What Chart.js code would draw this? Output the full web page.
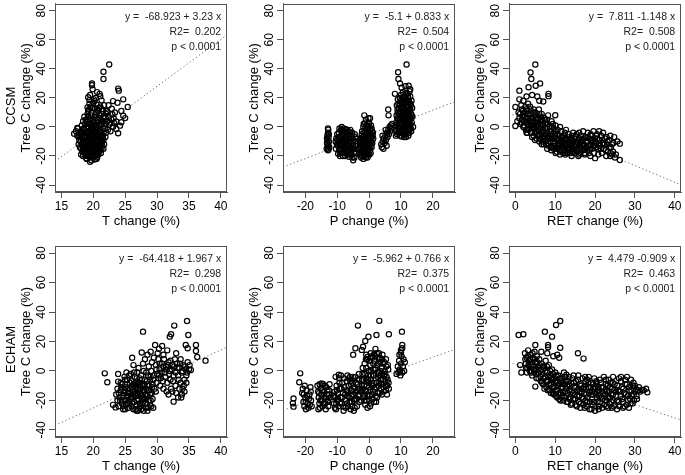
<!DOCTYPE html>
<html>
<head>
<meta charset="utf-8">
<script src="https://cdn.jsdelivr.net/npm/chart.js@4.4.0/dist/chart.umd.min.js"></script>
<style>
  body { margin: 0; width: 685px; height: 475px; overflow: hidden; background: #fff; position: relative; }
  canvas { position: absolute; }
</style>
</head>
<body>
<canvas id="c0" width="231" height="230" style="left:0px;top:0px"></canvas>
<canvas id="c1" width="231" height="230" style="left:228px;top:0px"></canvas>
<canvas id="c2" width="231" height="230" style="left:454px;top:0px"></canvas>
<canvas id="c3" width="231" height="238" style="left:0px;top:237px"></canvas>
<canvas id="c4" width="231" height="238" style="left:228px;top:237px"></canvas>
<canvas id="c5" width="231" height="238" style="left:454px;top:237px"></canvas>
<script>
// ---- tick labels / axis ranges
const yTicks = [-40, -20, 0, 20, 40, 60, 80];
const xTicksT = [15, 20, 25, 30, 35, 40];
const xTicksP = [-20, -10, 0, 10, 20];
const xTicksRET = [0, 10, 20, 30, 40];
const yLim = [-44.8, 84.8];
const xLimT = [14, 41];
const xLimP = [-27, 27];
const xLimRET = [-1.6, 41.6];

const xTitles = ['T change (%)', 'P change (%)', 'RET change (%)'];
const yTitle = 'Tree C change (%)';
const rowLabels = ['CCSM', 'ECHAM'];

// ---- regression fits
const intercepts = [-68.923, -5.1, 7.811, -64.418, -5.962, 4.479];
const slopes = [3.23, 0.833, -1.148, 1.967, 0.766, -0.909];
const eqLabels = ['y =  -68.923 + 3.23 x', 'y =  -5.1 + 0.833 x', 'y =  7.811 -1.148 x',
                  'y =  -64.418 + 1.967 x', 'y =  -5.962 + 0.766 x', 'y =  4.479 -0.909 x'];
const r2Labels = ['R2=  0.202', 'R2=  0.504', 'R2=  0.508', 'R2=  0.298', 'R2=  0.375', 'R2=  0.463'];
const pLabel = 'p < 0.0001';

// ---- points: [x, y]
const ccsmT = [
  [18.1,-3],[18.3,-8],[18.2,-12],[18.4,-15],[18.6,-18],[18.5,-1],[18.7,2],[18.6,-6],[18.8,-10],[18.9,-13],
  [18.9,-20],[19.0,-16],[19.1,-4],[19.0,4],[19.2,7],[19.3,0],[19.3,-8],[19.4,-11],[19.4,-18],[19.5,-21],
  [19.6,-14],[19.6,-2],[19.7,2],[19.7,10],[19.8,-6],[19.9,-9],[19.9,-16],[20.0,-19],[20.0,5],[20.1,-12],
  [20.2,-3],[20.2,1],[20.3,8],[20.3,-14],[20.4,-7],[20.5,-17],[20.5,-22],[20.6,-10],[20.6,3],[20.7,-1],
  [20.8,11],[20.8,-5],[20.9,-13],[21.0,6],[21.0,-8],[21.1,-16],[21.1,-2],[21.2,1],[21.3,-11],[21.3,9],
  [21.4,-6],[21.5,4],[21.6,-9],[21.7,-3],[18.0,-7],[18.3,-17],[18.5,-11],[18.8,-4],[18.7,-15],[19.0,-9],
  [19.1,-1],[19.2,-13],[19.5,-5],[19.5,5],[19.6,-19],[19.8,-12],[19.8,0],[20.0,-7],[20.1,-15],[20.1,3],
  [20.3,-20],[20.4,-4],[20.5,6],[20.7,-12],[20.8,-19],[20.9,-3],[21.0,-15],[21.2,-7],[21.2,4],[21.4,-13],
  [19.3,12],[19.9,13],[20.6,12],[21.5,11],[18.4,4],[17.6,-1],[17.5,-6],[17.8,-9],[17.9,-14],[17.3,-3],
  [18.1,-19],[19.7,-23],[20.2,-22.5],[18.9,-21.5],[19.4,16],[20.0,16.5],[20.5,15.5],[21.1,14],[19.1,9],[18.6,7],
  [18.2,1],[17.8,-4.5],[21.8,-1],[21.9,2],[22.0,-4],[21.7,-12],[21.2,-18],[21.6,-15],
  [22.5,43],[21.6,38],[21.6,33],[19.8,30],[19.8,28.7],[23.9,26.4],[24.0,25],[24.7,19],[23.1,17.8],[23.8,16.7],
  [19.4,18.5],[20.2,17.8],[21.0,22.8],[21.1,21.2],[21.3,18.3],[20.1,19],[25.4,13.8],[24.4,11],[24.7,7.7],[25.0,6.1],
  [24.2,0.9],[23.9,-4.3],[23.6,-1.4],[23.1,0.2],[22.5,1.6],[22.8,5.4],[21.9,6.5],[23.0,8.8],[23.4,10],[22.1,11],
  [21.3,12.2],[24.4,3.2],[23.6,3.8],[22.4,7],[22.9,12.5],[22.2,4],[23.3,2.5],[17.0,-4.7],[17.5,-0.7],[19.5,22],
  [20.6,24],[19.9,26],
  [18.2,-5],[18.4,-10],[18.5,-13.5],[18.7,-8],[18.8,-17],[18.9,0],[19.0,-6],[19.0,-19],[19.1,-11],[19.2,-15],
  [19.2,2],[19.3,-3],[19.3,-20],[19.4,-7],[19.4,5],[19.5,-9],[19.5,-13],[19.6,-17],[19.6,8],[19.7,-4],
  [19.7,-10],[19.8,-15],[19.8,-20],[19.9,-2],[19.9,3],[20.0,-5],[20.0,-11],[20.0,-14],[20.1,-8],[20.1,-18],
  [20.2,-1],[20.2,7],[20.3,-10],[20.3,-16],[20.4,0],[20.4,-12],[20.5,-2],[20.5,-8],[20.6,-15],[20.6,-19],
  [20.7,-6],[20.7,5],[20.8,-9],[20.8,-14],[20.9,1],[20.9,-17],[21.0,-4],[21.0,-11],[21.1,-13],[21.1,8],
  [21.2,-9],[21.3,-4],[21.3,-15],[21.4,2],[21.4,-10],[21.5,-7],[21.5,-1],[18.6,-2],[18.3,-4],[18.0,-10],
  [17.7,-12],[18.4,-20],[19.0,-22],[18.8,5],[19.2,11],[19.6,14],[20.4,10],[20.9,13],[19.1,13.5],[20.2,13],
  [21.6,7],[21.8,4],[22.0,9],[21.9,-7],[22.3,-2],[22.6,3],[22.2,10],[22.7,-3],[23.2,6],[21.7,15],
  [22.4,15],[20.4,20],[19.2,20.5],[19.5,-24],[20.6,-21],[17.8,-7],[18.1,-15],[19.7,-1],[20.1,-3]
];
const ccsmP = [
  [-12.8,-2],[-12.9,-4],[-13.1,-6],[-12.7,-7],[-13.0,-9],[-12.6,-10],[-13.2,-11],[-12.8,-12],[-13.0,-13.5],[-12.5,-14],
  [-13.3,-15],[-12.7,-15.5],[-12.9,-1],[-13.2,-8],[-12.6,-5],[-12.9,-16],
  [-9.6,-7],[-9.2,-10],[-9.8,-13],[-9.4,-16],[-9.0,-18],[-8.8,-2],[-8.6,-5],[-8.4,-9],[-8.7,-12],[-8.3,-15],
  [-8.5,-18],[-8.2,-20],[-8.0,-1],[-7.8,-7],[-7.6,-11],[-7.9,-14],[-7.4,-17],[-7.2,-4],[-7.0,-9],[-6.8,-13],
  [-6.6,-16],[-6.9,-19],[-6.2,-6],[-6.0,-10],[-5.8,-14],[-5.6,-17],[-5.4,-8],[-5.0,-12],[-5.2,-21],[-4.8,-15],
  [-4.5,-5],[-4.4,-10],[-4.2,-18],[-3.9,-8],[-9.9,-9],[-10.1,-12],[-10.3,-8],[-9.1,-20],[-8.9,-7],[-7.5,-20],
  [-6.4,-3],[-5.3,-4],[-4.0,-13],[-5.5,-19],[-8.6,0],[-7.3,-1.5],[-10.4,-15],[-9.7,-18.5],[-6.3,-20.5],[-4.6,-21],
  [-5.0,-23],
  [-9.5,-4],[-9.3,-8],[-9.1,-12],[-9.0,-15],[-8.9,-10],[-8.7,-16],[-8.5,-3],[-8.3,-12],[-8.1,-6],[-8.0,-17],
  [-7.8,-3],[-7.7,-13],[-7.5,-9],[-7.3,-15],[-7.1,-12],[-7.0,-2],[-6.9,-6],[-6.7,-10],[-6.5,-18],[-6.3,-13],
  [-6.1,-8],[-6.0,-15],[-5.9,-2],[-5.7,-11],[-5.5,-6],[-5.2,-15],[-4.9,-9],[-4.7,-17],[-4.3,-7],[-4.1,-15],
  [-9.6,-11],[-10.0,-5],[-10.5,-10],[-9.3,-1],[-8.0,-10],[-7.2,-7],[-6.0,-19],
  [-2.8,-12],[-2.6,-16],[-2.9,-19],[-2.5,-21],[-2.4,-8],[-2.2,-3],[-2.0,-14],[-2.1,-18],[-1.8,-22],[-1.7,2],
  [-1.6,-6],[-1.5,-10],[-1.4,-16],[-1.3,-20],[-1.2,-1],[-1.0,5],[-1.5,8],[-0.9,-8],[-0.8,-13],[-0.7,-18],
  [-0.6,-4],[-0.4,0],[-0.3,-10],[-0.2,-15],[-0.1,-6],[0.0,3],[0.3,6],[0.2,-2],[0.4,-9],[0.5,-13],
  [0.6,-5],[0.8,-1],[0.9,-7],[1.0,-11],[-0.5,-21],[0.1,-19],[0.5,-18],[-1.1,-12],[-2.3,-11],[-1.9,-9],
  [-0.4,-16],[1.2,-4],[1.3,-8],[-3.1,-15],
  [-2.7,-14],[-2.6,-10],[-2.4,-18],[-2.3,-5],[-2.2,-20],[-2.1,-12],[-2.0,-7],[-1.9,-16],[-1.8,0],[-1.7,-12],
  [-1.6,-19],[-1.5,-3],[-1.4,-8],[-1.3,-14],[-1.2,3],[-1.1,-17],[-1.0,-5],[-1.0,-21],[-0.9,-11],[-0.8,1],
  [-0.7,-15],[-0.6,-9],[-0.5,-2],[-0.4,-12],[-0.3,-19],[-0.2,-7],[-0.1,2],[0.0,-14],[0.1,-4],[0.2,-11],
  [0.3,-16],[0.4,-1],[0.5,-7],[0.7,-10],[0.8,-14],[0.9,-3],[1.1,-6],[-0.2,6],[0.6,1],[-3.0,-18],
  [-2.9,-9],
  [3.8,-12],[4.0,-14],[4.3,-10],[4.5,-15],[4.6,-8],[4.9,-11],[5.1,-6],[5.3,-9],[5.6,-4],[5.8,-7],
  [6.0,-2],[6.2,-5],[6.4,0],[6.6,-3],[6.8,1],[7.0,-1],[6.0,12],[6.1,8],[5.5,-13],[4.2,-6],
  [7.2,2],[5.2,-2],
  [8.3,-2],[8.5,3],[8.6,8],[8.8,-5],[8.9,12],[9.0,0],[9.1,5],[9.2,16],[9.3,-3],[9.4,9],
  [9.5,2],[9.6,20],[9.7,-6],[9.8,6],[9.9,13],[10.0,-1],[10.1,3],[10.2,10],[10.3,17],[10.4,-4],
  [10.5,7],[10.6,0],[10.7,14],[10.8,4],[10.9,-7],[11.0,9],[11.1,21],[11.2,1],[11.3,12],[11.4,-3],
  [11.5,6],[11.6,17],[11.7,-5],[11.8,3],[11.9,10],[12.0,0],[12.1,14],[12.2,-2],[12.3,7],[12.4,19],
  [12.5,4],[12.6,-4],[12.7,11],[12.8,1],[12.9,16],[13.0,6],[13.1,-1],[13.2,9],[13.4,3],[13.5,13],
  [12.0,23],[11.4,25],[12.4,28.4],[12.7,24.6],[12.9,21],[11.75,43],[9.1,37.7],[9.2,33],[9.7,30],[10.2,27],
  [8.1,22.8],[10.6,24],[11.0,18],[9.0,19],[10.0,22],[8.7,15],[13.3,18],[13.6,7],[13.8,0],[8.4,-6],
  [12.3,-6],[10.2,-6.5],[11.6,-7],[9.5,-1],[11.2,5],[12.6,2],[10.5,12],[9.8,9],[11.9,-3],
  [8.4,1],[8.6,-3],[8.8,6],[9.0,10],[9.1,-4],[9.2,2],[9.3,13],[9.4,-1],[9.5,6],[9.6,15],
  [9.7,3],[9.8,-4],[9.9,10],[10.0,18],[10.1,6],[10.2,-2],[10.3,13],[10.4,2],[10.5,20],[10.6,9],
  [10.7,-3],[10.8,16],[10.9,6],[11.0,1],[11.1,13],[11.2,-5],[11.3,8],[11.4,19],[11.5,2],[11.6,10],
  [11.7,14],[11.8,-1],[11.9,6],[12.0,18],[12.1,3],[12.2,10],[12.3,-3],[12.4,13],[12.5,8],[12.6,17],
  [12.7,-1],[12.8,6],[12.9,12],[13.0,2],[13.1,15],[13.2,-3],[13.3,8],[12.2,21],[11.7,23],[10.9,20],
  [11.4,28],[12.9,26]
];
const ccsmRET = [
  [0,0.7],[0,13.8],[1,25],[1,19],[3.3,27.3],[3.8,37.5],[4,33],[5,43],[6.2,30],[5.1,28.4],
  [8.3,22.8],[8.3,21.2],[10,8.1],[4.2,22],[6,18],[7,17.5],[2,18],[2.8,21],[5.5,21],
  [1.0,6],[1.2,9],[1.5,3],[1.6,12],[1.8,7],[2.0,0],[2.2,4],[2.3,10],[2.5,14],[2.6,-2],
  [2.8,6],[3.0,2],[3.0,11],[3.2,16],[3.4,-1],[3.5,8],[3.6,4],
  [3.8,12],[4.0,-4],[4.1,1],[4.3,6],[4.5,10],[4.6,-6],[4.8,-1],[5.0,3],[5.1,8],[5.3,-8],
  [5.4,-3],[5.6,1],[5.8,6],[5.9,12],[6.0,-5],[6.2,-1],[6.4,4],
  [6.5,-9],[6.6,9],[6.8,-3],[7.0,1],[7.1,-12],[7.3,-6],[7.5,5],[7.6,-1],[7.8,-9],[8.0,-4],
  [8.1,2],[8.3,-13],[8.4,-7],[8.6,0],[8.8,-10],[9.0,-3],[9.1,4],[9.3,-14],[9.4,-7],[9.6,-1],
  [9.8,-11],[10.0,-5],[10.1,1],
  [10.3,-15],[10.5,-9],[10.6,-2],[10.8,-13],[11.0,-6],[11.2,-17],[11.3,-10],[11.5,-3],[11.7,-14],[11.9,-7],
  [12.0,-18],[12.2,-11],[12.4,-4],[12.6,-15],[12.8,-8],[13.0,-18],[13.1,-12],[13.3,-5],[13.5,-16],[13.7,-9],
  [13.9,-13],[14.1,-18],[14.2,-6],[14.4,-11],[14.6,-15],[14.8,-8],
  [15.0,-18],[15.2,-12],[15.4,-5],[15.6,-15],[15.8,-9],[16.0,-19],[16.2,-12],[16.4,-6],[16.6,-15],[16.8,-9],
  [17.0,-3],[17.2,-12],[17.4,-18],[17.6,-7],[17.8,-14],[18.0,-10],[18.2,-4],[18.4,-16],[18.6,-8],[18.8,-12],
  [19.0,-6],[19.2,-15],[19.4,-10],[19.6,-3],[19.8,-13],[20.0,-21.5],[20.0,-8],
  [20.3,-11],[20.5,-5],[20.7,-15],[21.0,-9],[21.2,-13],[21.5,-6],[21.7,-18],[22.0,-11],[22.2,-15],[22.5,-8],
  [22.8,-20],[23.0,-12],[23.2,-17],[23.5,-9],[23.8,-20],[24.0,-14],[24.3,-19],[24.6,-11],[25.0,-21],[26.2,-11.5],
  [26.2,-22.8],[24.8,-7],[23.8,-6],[22.0,-4],[21.0,-3],
  [2.1,8],[3.1,6],[3.9,3],[4.4,0],[5.2,5],[5.7,-2],[6.3,2],[6.9,-7],[7.7,3],[8.7,-5],
  [9.7,-8],[10.7,-11],[11.6,-12],[12.5,-13],[13.4,-14],[14.3,-15],[15.1,-14],[16.1,-16],[17.1,-16],[12.1,-9],
  [13.6,-11],[15.5,-10],[16.7,-12],[11.0,-15],[14.0,-9],[18.5,-18],[19.7,-18],[20.8,-19],[1.5,15],[0.8,10],
  [0.5,4],[3.0,-4],[4.9,-9],[6.6,-12],[9.0,-16],[8.2,8],[7.2,6],
  [1.3,2],[1.7,5],[1.9,11],[2.1,1],[2.4,7],[2.7,12],[2.9,3],[3.1,-2],[3.3,9],[3.5,1],
  [3.7,14],[3.8,6],[4.0,9],[4.2,-1],[4.4,4],[4.6,12],[4.7,2],[4.9,-4],[5.0,10],[5.2,0],
  [5.4,6],[5.5,-6],[5.7,3],[5.9,-3],[6.0,9],[6.1,-8],[6.3,5],[6.5,-4],[6.7,2],[6.9,-10],
  [7.0,-2],[7.2,-8],[7.4,2],[7.5,-5],[7.7,-12],[7.9,-1],[8.0,-7],[8.2,-11],[8.5,-3],[8.7,-8],
  [8.9,-14],[9.1,-6],[9.2,0],[9.5,-10],[9.6,-15],[9.9,-3],[10.0,-13],[10.2,-8],[10.4,-17],[10.6,-5],
  [10.9,-9],[11.1,-12],[11.3,-16],[11.5,-7],[11.8,-10],[12.0,-14],[12.3,-6],[12.5,-17],[12.7,-11],[13.0,-9],
  [13.2,-15],[13.5,-7],[13.7,-18],[14.0,-12],[14.3,-9],[14.5,-17],[14.7,-13],[15.0,-7],[15.3,-16],[15.7,-11],
  [16.0,-8],[16.3,-18],[16.5,-10],[16.9,-13],[17.2,-8],[17.5,-15],[17.9,-11],[18.1,-7],[18.3,-13],[18.7,-15],
  [19.1,-9],[19.5,-13],[19.9,-10],[20.2,-14],[20.6,-8],[21.1,-11],[21.4,-15],[21.8,-9],[22.3,-12],[22.7,-16],
  [23.1,-10],[23.6,-14],[24.2,-12],[24.5,-17],[23.9,-18],[25.2,-19],[25.6,-10],[22.9,-7],[20.3,-6],[18.9,-5],
  [16.0,-4],[14.5,-4],[12.7,-2],[11.2,0],[9.4,2],[7.9,5],[6.4,7],[14.1,-20],[15.8,-20],[12.5,-19],
  [17.4,-19],[18.8,-20],[11.2,-19],[10.1,-18],[8.0,-15],[6.0,-10],[4.2,-7],[2.8,-4]
];
const echamT = [
  [21.8,-1.6],[22.2,-7.7],[23.9,-2],[23.9,-7.2],[27.8,26.7],[34.7,33.9],[32.7,30.8],[32.2,24.9],[32.0,23.3],[34.9,24.4],
  [34.5,17.6],[36.1,17.6],[34.8,15.4],[36.1,13.6],[36.3,9.5],[37.6,7.0],[35.3,0.7],[29.7,17.6],[30.8,17],[26.1,9],
  [23.1,-23],[23.5,-24.7],
  [24.0,-15],[24.2,-20],[24.4,-11],[24.6,-17],[24.7,-24],[24.9,-13],[25.0,-6],[25.1,-20],[25.3,-9],[25.4,-15],
  [25.5,-25],[25.6,-3],[25.8,-12],[25.9,-18],[26.0,-7],[26.1,-22],[26.2,-14],[26.4,-1],[26.5,-10],[26.6,-26],
  [26.7,-17],[26.8,-5],[26.9,-20],[27.0,-12],[27.1,2],[27.2,-8],[27.3,-24],[27.4,-15],[27.5,-3],[27.6,-19],
  [27.7,-10],[27.8,5],[27.9,-27],[28.0,-14],[28.1,-6],[28.2,-22],[28.3,-1],[28.4,-17],[28.5,-10],[28.6,-25],
  [28.7,3],[28.8,-13],[28.9,-6],[29.0,-20],[29.1,0],[29.2,-15],[29.3,-9],[29.5,-3],[24.3,-8],[25.2,-1],
  [26.3,4],[23.6,-16],[23.8,-12],[25.7,-22],[26.8,-23],[27.5,-26],[28.5,-27],[29.4,-25],[27.0,-16],[26.0,-11],
  [25.5,-17],[27.9,-18],[28.9,-23],[29.6,-12],[27.3,-5],[26.6,-8],[28.1,8],[29.2,6],[28.5,11],[27.6,12.5],
  [29.0,13],[24.5,-22],[25.0,-26],
  [24.1,-18],[24.3,-13],[24.5,-9],[24.6,-20],[24.8,-15],[24.9,-4],[25.0,-11],[25.1,-23],[25.2,-17],[25.3,-6],
  [25.4,-12],[25.6,-20],[25.7,-8],[25.8,-15],[25.9,-2],[26.0,-24],[26.1,-13],[26.2,-18],[26.3,-9],[26.4,-21],
  [26.5,-4],[26.6,-15],[26.7,-11],[26.8,-27],[26.9,-1],[27.0,-8],[27.1,-19],[27.2,-14],[27.3,-22],[27.4,-10],
  [27.5,-17],[27.6,-6],[27.7,-23],[27.8,-13],[27.9,0],[28.0,-9],[28.1,-19],[28.2,-16],[28.3,-25],[28.4,-7],
  [28.5,-13],[28.6,-3],[28.7,-20],[28.8,-10],[28.9,-16],[29.0,-4],[29.1,-24],[29.2,-11],[29.3,-19],[29.4,-6],
  [26.5,-16],[27.3,-12],[25.8,-19],[26.9,-9],[28.3,-12],[27.8,-21],[25.4,-22],[26.3,-26],[27.0,-27],[24.7,-26],
  [24.0,-24],[23.8,-20],
  [29.8,4],[30.0,-2],[30.2,8],[30.4,1],[30.6,-5],[30.8,5],[31.0,11],[31.2,-1],[31.4,3],[31.6,-8],
  [31.8,6],[32.0,0],[32.2,-12],[32.4,4],[32.6,-3],[32.8,8],[33.0,-15],[33.2,2],[33.4,-6],[33.6,5],
  [33.8,-18],[34.0,0],[34.2,-10],[34.4,3],[34.6,-3],[34.8,6],[35.0,1],[33.9,-16],[32.6,-20.8],[31.5,-14],
  [31.0,-12],[32.9,-10],[33.5,-12],[34.3,-14],[30.5,-10],[29.8,-14],[30.1,12],[31.6,14],[33.0,12],[29.5,9],
  [30.9,-7],[32.1,-6],[33.7,-8],[30.3,15],
  [29.9,-8],[30.2,-5],[30.4,5],[30.7,-1],[31.0,3],[31.1,8],[31.3,-4],[31.5,1],[31.7,4],[31.9,-2],
  [32.1,7],[32.3,1],[32.5,-7],[32.7,3],[32.9,-1],[33.1,5],[33.3,-3],[33.5,2],[33.7,8],[33.9,-1],
  [34.1,4],[34.3,-6],[34.5,1],[34.7,-1],[35.1,4],[31.8,-16],[32.4,-14],[33.3,-18],[34.0,-12],[34.6,-8],
  [30.3,-3],[29.9,1]
];
const echamP = [
  [-21.6,-1.6],[-21.9,-7.7],[-23.7,-18.6],[-23.9,-21.9],[-23.7,-24.2],[-3.5,30.8],[3.2,34],[2.3,24.4],[-0.2,23.3],[6.2,24.9],
  [10.3,26.7],[10.4,17.6],[10.0,14.3],[-4.3,15.4],[-1.2,20.4],[-2.3,14.3],[-1.9,16.4],[-5,11],[-0.5,9.5],[2.0,15],
  [-21.0,-15],[-20.6,-21],[-20.3,-24],[-20.0,-18],[-19.6,-13],[-19.3,-22],[-19.0,-25],[-18.7,-16],[-18.4,-11],[-18.2,-20],
  [-18.0,-24],[-20.8,-12],[-19.8,-26],[-18.9,-19],
  [-20.5,-16],[-19.9,-21],[-19.4,-17],[-18.6,-23],[-18.3,-14],[-20.2,-10],
  [-16.2,-10],[-16.0,-14],[-15.8,-18],[-15.6,-22],[-15.4,-25],[-15.2,-12],[-15.0,-16],[-14.8,-20],[-14.6,-24],[-14.4,-9],
  [-14.2,-14],[-14.0,-18],[-13.8,-22],[-13.6,-26],[-13.4,-11],[-13.2,-16],[-13.0,-20],[-12.8,-24],[-12.6,-13],[-12.4,-9],
  [-12.2,-18],[-15.9,-26],[-14.9,-8.5],
  [-15.7,-15],[-15.3,-20],[-14.7,-13],[-14.3,-22],[-13.9,-10],[-13.5,-19],[-13.1,-13],[-12.9,-21],[-12.5,-16],[-15.5,-9],
  [-11.0,-22],[-10.8,-14],[-10.6,-18],[-10.4,-26],[-10.2,-10],[-10.0,-20],[-9.8,-15],[-9.6,-24],[-9.4,-5],[-9.2,-12],
  [-9.0,-18],[-8.8,-3],[-8.6,-22],[-8.4,-8],[-8.2,-15],[-8.0,-27],[-7.8,-11],[-9.5,-2.5],[-10.5,-4],[-11.3,-17],
  [-10.9,-17],[-10.3,-22],[-10.1,-13],[-9.7,-19],[-9.3,-8],[-9.1,-22],[-8.7,-12],[-8.5,-18],[-8.1,-24],[-7.9,-5],
  [-10.7,-25],
  [-7.2,-20],[-7.0,-7],[-6.8,-14],[-6.6,-24],[-6.4,-10],[-6.2,-18],[-6.0,-4],[-5.8,-26],[-5.6,-13],[-5.4,-21],
  [-5.2,-8],[-5.0,-16],[-4.8,-27],[-4.6,-11],[-4.4,-19],[-4.2,-4],[-4.0,-14],[-3.8,-24],[-3.6,-9],[-3.4,-17],
  [-3.2,-2],[-3.0,-21],[-5.9,-7],[-6.7,-17],[-4.5,-25],[-3.0,-12],[-7.4,-25],
  [-7.1,-13],[-6.9,-22],[-6.5,-15],[-6.3,-5],[-6.1,-21],[-5.7,-9],[-5.5,-17],[-5.3,-24],[-4.9,-12],[-4.7,-20],
  [-4.3,-15],[-4.1,-8],[-3.9,-19],[-3.7,-13],[-3.3,-6],[-3.1,-16],[-5.1,-4],[-6.8,-3],[-7.5,-16],
  [-2.4,-14],[-2.2,-6],[-2.0,2],[-1.8,-18],[-1.6,-10],[-1.4,5],[-1.2,-2],[-1.0,-14],[-0.8,-20],[-0.6,8],
  [-0.4,-6],[-0.2,0],[0.0,-11],[0.2,-17],[0.4,4],[0.6,-3],[0.8,10],[1.0,-8],[1.2,-14],[1.4,1],
  [1.6,-21],[1.8,7],[2.0,-5],[2.2,-11],[2.4,12],[2.6,-1],[2.8,-15],[3.0,5],[3.2,-8],[3.4,9],
  [3.6,-3],[3.8,-12],[4.0,2],[4.2,11],[4.4,-6],[4.6,-14],[4.8,6],[5.0,-2],[5.2,-10],[5.4,3],
  [5.6,-16],[5.8,-6],[6.0,1],[6.2,-12],[0.5,12],[1.5,11],[-0.9,11],[3.1,12],[1.1,-19],[-1.5,-16],
  [4.0,-16],[-2.5,-20],[0.3,-24],[-0.5,-25],[2.5,-18],[3.5,0],[5.3,8],
  [-2.3,-10],[-2.1,-2],[-1.9,-12],[-1.7,-6],[-1.5,-20],[-1.3,-13],[-1.1,-5],[-0.9,2],[-0.7,-10],[-0.5,-16],
  [-0.3,-3],[-0.1,-8],[0.1,-20],[0.3,-13],[0.5,-6],[0.7,0],[0.9,-16],[1.1,-10],[1.3,5],[1.5,-3],
  [1.7,-12],[1.9,1],[2.1,-17],[2.3,-8],[2.5,4],[2.7,-4],[2.9,-10],[3.1,-1],[3.3,-15],[3.5,6],
  [3.7,-6],[3.9,-9],[4.1,-2],[4.3,5],[4.5,-11],[4.7,-3],[4.9,0],[5.1,-7],[5.3,-13],[5.5,-4],
  [5.7,-10],[5.9,4],[6.1,-8],[0.0,7],[1.0,9],[2.0,10],[3.0,8],[4.1,8],[-1.0,8],[0.6,-22],
  [-1.2,-23],[2.2,-21],
  [8.6,-2],[9.0,3],[9.2,-1],[9.4,7],[9.6,1],[9.8,-3],[10.0,5],[10.2,10],[10.4,-1],[10.6,3],
  [10.8,8],[11.0,0],[10.0,12.5],[9.5,11],[11.2,6],[10.4,15.5],[9.7,-0.5]
];
const echamRET = [
  [0.8,24.4],[2,24.9],[7.4,26.7],[9.2,23.3],[10.2,31.2],[11.25,33.9],[8.2,17.6],[8.2,16.1],[11.25,15.8],[5,17.6],
  [15.7,12],[17.1,8.4],[5,-10.6],[10.5,11],[9.5,10],[11,9],[8,12],[6.5,13],[1.2,4],[1.5,-1],
  [2.4,12],[2.6,5],[2.8,9],[3.0,2],[3.2,14],[3.4,7],[3.6,0],[3.8,11],[4.0,4],[4.2,-3],
  [4.4,9],[4.6,1],[4.8,13],[5.0,6],[5.2,-2],[5.4,10],[5.6,3],[5.8,-5],[6.0,8],[6.2,0],
  [6.4,-7],[6.6,5],[6.8,-2],[3.3,4],[4.7,-1],[5.9,2],[2.9,-1],
  [2.5,8],[2.7,2],[3.1,10],[3.5,3],[3.7,8],[3.9,-1],[4.1,6],[4.3,12],[4.5,3],[4.9,8],
  [5.1,1],[5.3,-5],[5.5,6],[5.7,-1],[6.1,4],[6.3,-4],[6.5,1],[6.7,-8],[6.9,3],
  [7.0,-9],[7.2,2],[7.4,-4],[7.6,7],[7.8,-11],[8.0,-1],[8.2,-7],[8.4,4],[8.6,-13],[8.8,-3],
  [9.0,-9],[9.2,1],[9.4,-15],[9.6,-5],[9.8,-11],[10.0,-1],[10.2,-17],[10.4,-7],[10.6,-13],[10.8,-3],
  [11.0,-19],[11.2,-9],[11.4,-15],[11.6,-5],[11.8,-11],[12.0,-20],[12.2,-1],[12.4,-14],[12.6,-7],[12.8,-17],
  [13.0,-10],[13.2,-21],[13.4,-4],[13.6,-13],[13.8,-18],[14.0,-8],[14.2,-22],[14.4,-15],[14.6,-3],[14.8,-11],
  [9.0,-4.5],[10.6,-8],[11.8,-17],[12.8,-2.5],[13.4,-9],
  [7.1,-5],[7.3,-12],[7.5,0],[7.7,-7],[7.9,3],[8.1,-13],[8.3,-4],[8.5,-9],[8.7,0],[8.9,-15],
  [9.1,-6],[9.3,-11],[9.5,-2],[9.7,-16],[9.9,-7],[10.1,-13],[10.3,-3],[10.5,-18],[10.7,-10],[10.9,-15],
  [11.1,-5],[11.3,-20],[11.5,-11],[11.7,-7],[11.9,-14],[12.1,-9],[12.3,-18],[12.5,-4],[12.7,-12],[12.9,-21],
  [13.1,-15],[13.3,-7],[13.5,-19],[13.7,-10],[13.9,-23],[14.1,-14],[14.3,-5],[14.5,-19],[14.7,-8],[14.9,-16],
  [15.0,-19],[15.2,-7],[15.4,-24],[15.6,-13],[15.8,-3],[16.0,-17],[16.2,-9],[16.4,-22],[16.6,-14],[16.8,-5],
  [17.0,-19],[17.2,-11],[17.4,-25],[17.6,-7],[17.8,-16],[18.0,-21],[18.2,-11],[18.4,-4],[18.6,-26],[18.8,-14],
  [19.0,-8],[19.2,-19],[19.4,-23],[19.6,-12],[19.8,-5],[20.0,-27],[20.2,-16],[20.4,-9],[20.6,-21],[20.8,-13],
  [21.0,-24],[21.2,-6],[21.4,-18],[21.6,-11],[21.8,-25],[22.0,-15],[22.2,-4],[22.4,-20],[22.6,-9],[22.8,-24],
  [23.0,-14],[23.2,-18],[23.4,-6],[23.6,-22],[23.8,-11],[24.0,-16],[24.2,-25],[24.4,-8],[24.6,-20],[24.8,-13],
  [17.6,-20],[19.2,-14],[21.0,-17],[22.6,-13],[20.0,-11],[16.0,-12],[18.0,-6],
  [15.1,-23],[15.3,-11],[15.5,-17],[15.7,-6],[15.9,-21],[16.1,-14],[16.3,-25],[16.5,-10],[16.7,-18],[16.9,-12],
  [17.1,-23],[17.3,-15],[17.5,-4],[17.7,-12],[17.9,-24],[18.1,-18],[18.3,-8],[18.5,-15],[18.7,-21],[18.9,-11],
  [19.1,-26],[19.3,-16],[19.5,-9],[19.7,-21],[19.9,-14],[20.1,-24],[20.3,-7],[20.5,-18],[20.7,-11],[20.9,-26],
  [21.1,-15],[21.3,-21],[21.5,-8],[21.7,-14],[21.9,-19],[22.1,-11],[22.3,-23],[22.5,-16],[22.7,-6],[22.9,-20],
  [23.1,-10],[23.3,-25],[23.5,-14],[23.7,-18],[23.9,-8],[24.1,-21],[24.3,-12],[24.5,-16],[24.7,-24],[24.9,-9],
  [25.0,-23],[25.3,-17],[25.6,-10],[25.9,-21],[26.2,-14],[26.5,-7],[26.8,-19],[27.1,-12],[27.4,-24],[27.7,-16],
  [28.0,-9],[28.3,-20],[28.6,-13],[28.9,-22],[29.2,-17],[29.5,-10],[29.8,-20],[30.1,-14],[30.2,-12.2],[31.8,-12.9],
  [33.1,-14.5],[31.0,-11],[30.5,-19],[26.0,-5],[28.0,-4],[29.6,-8],[25.5,-26],[27.0,-25],[28.5,-25],
  [25.2,-14],[25.5,-20],[25.8,-13],[26.1,-24],[26.4,-17],[26.7,-11],[27.0,-21],[27.3,-15],[27.6,-9],[27.9,-23],
  [28.2,-17],[28.5,-11],[28.8,-19],[29.1,-13],[29.4,-22],[29.7,-16],[30.0,-10],[30.4,-17],[30.8,-13],[31.3,-14],
  [32.2,-13],[32.8,-12],[29.0,-6],[27.5,-6],[26.5,-4],[24.5,-4]
];

const panelPoints = [ccsmT, ccsmP, ccsmRET, echamT, echamP, echamRET];
const panelXTicks = [xTicksT, xTicksP, xTicksRET];
const panelXLim = [xLimT, xLimP, xLimRET];

Chart.defaults.font.family = "'Liberation Sans', Arial, sans-serif";
Chart.defaults.color = '#000';

const AXIS_COLOR = '#555';

// box, rotated y tick labels, fit text and row label
const panelDeco = {
  id: 'panelDeco',
  afterDraw(chart, args, opts) {
    const { ctx, chartArea: a, scales: { y } } = chart;
    ctx.save();
    ctx.strokeStyle = AXIS_COLOR;
    ctx.lineWidth = 1;
    ctx.strokeRect(Math.round(a.left) + 0.5, Math.round(a.top) + 0.5,
                   Math.round(a.right - a.left) - 1, Math.round(a.bottom - a.top) - 1);

    ctx.fillStyle = '#000';
    ctx.font = "12px 'Liberation Sans', Arial, sans-serif";
    ctx.textAlign = 'center';
    ctx.textBaseline = 'middle';
    y.ticks.forEach(t => {
      const py = y.getPixelForValue(t.value);
      ctx.save();
      ctx.translate(a.left - 13.5, py);
      ctx.rotate(-Math.PI / 2);
      ctx.fillText(String(t.value), 0, 0);
      ctx.restore();
    });

    ctx.fillStyle = '#222';
    ctx.font = "10.5px 'Liberation Sans', Arial, sans-serif";
    ctx.textAlign = 'right';
    opts.lines.forEach((s, i) => ctx.fillText(s, a.right - 6, a.top + 13.5 + i * 15));

    if (opts.rowLabel) {
      ctx.fillStyle = '#000';
      ctx.font = "13px 'Liberation Sans', Arial, sans-serif";
      ctx.textAlign = 'center';
      ctx.save();
      ctx.translate(a.left - 43.3, (a.top + a.bottom) / 2 + 8);
      ctx.rotate(-Math.PI / 2);
      ctx.fillText(opts.rowLabel, 0, 0);
      ctx.restore();
    }
    ctx.restore();
  }
};

for (let i = 0; i < 6; i++) {
  const col = i % 3;
  const row = Math.floor(i / 3);
  const xLim = panelXLim[col];
  const xTicks = panelXTicks[col];
  const a = intercepts[i], b = slopes[i];

  new Chart(document.getElementById('c' + i), {
    type: 'scatter',
    data: {
      datasets: [{
        data: panelPoints[i].map(p => ({ x: p[0], y: p[1] })),
        pointRadius: 2.6,
        pointBorderWidth: 1.2,
        pointBackgroundColor: 'rgba(0,0,0,0)',
        pointBorderColor: '#000',
        pointHoverRadius: 2.6
      }, {
        type: 'line',
        data: xLim.map(x => ({ x: x, y: a + b * x })),
        borderColor: '#666',
        borderWidth: 1,
        borderDash: [1.2, 2.6],
        pointRadius: 0,
        fill: false
      }]
    },
    options: {
      responsive: false,
      animation: false,
      events: [],
      layout: { padding: { top: row === 0 ? 2 : 9, left: 0, right: 2, bottom: 0 } },
      plugins: {
        legend: { display: false },
        tooltip: { enabled: false },
        panelDeco: {
          lines: [eqLabels[i], r2Labels[i], pLabel],
          rowLabel: col === 0 ? rowLabels[row] : null
        }
      },
      scales: {
        x: {
          type: 'linear',
          min: xLim[0],
          max: xLim[1],
          afterBuildTicks: s => { s.ticks = xTicks.map(v => ({ value: v })); },
          afterFit: s => { s.height = 38; s.paddingLeft = 0; s.paddingRight = 0; },
          ticks: { font: { size: 12 }, color: '#000', padding: 1, maxRotation: 0, autoSkip: false },
          grid: { drawOnChartArea: false, tickLength: 6, color: AXIS_COLOR },
          border: { color: AXIS_COLOR },
          title: { display: true, text: xTitles[col], font: { size: 13 }, color: '#000', padding: { top: 0, bottom: 0.5 } }
        },
        y: {
          type: 'linear',
          min: yLim[0],
          max: yLim[1],
          afterBuildTicks: s => { s.ticks = yTicks.map(v => ({ value: v })); },
          afterFit: s => { s.width = 55; s.paddingTop = 0; s.paddingBottom = 0; },
          ticks: { display: false },
          grid: { drawOnChartArea: false, tickLength: 6, color: AXIS_COLOR },
          border: { color: AXIS_COLOR },
          title: { display: true, text: yTitle, font: { size: 13 }, color: '#000', padding: { top: 18.2, bottom: 0 } }
        }
      }
    },
    plugins: [panelDeco]
  });
}
</script>
</body>
</html>
